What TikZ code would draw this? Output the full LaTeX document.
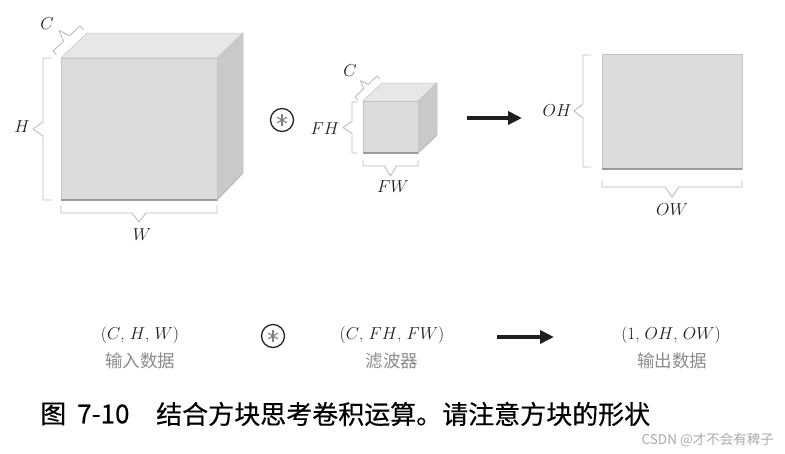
\documentclass[tikz,border=0pt]{standalone}
\usepackage{fontspec}
\newfontfamily\cjk{Noto Sans CJK SC}
\newfontfamily\cjkcap{Noto Sans CJK SC}[FakeBold=0.3]
\usetikzlibrary{arrows.meta,calc}
\definecolor{faceC}{HTML}{DCDCDE}
\definecolor{topC}{HTML}{E7E7E9}
\definecolor{sideC}{HTML}{C9C9CB}
\definecolor{edgeC}{HTML}{C4C4C6}
\definecolor{shadowC}{HTML}{9C9C9E}
\definecolor{brkC}{HTML}{BDBDBD}
\definecolor{lblC}{HTML}{1E1E1E}
\definecolor{cnC}{HTML}{8C8C8C}
% bracket: start, end, tick length, tip length, half notch width
\newcommand\brk[5]{%
  \path (#1) coordinate (bA) (#2) coordinate (bB) ($(bA)!0.5!(bB)$) coordinate (bM);
  \draw[brk] ($(bA)!#3!90:(bB)$) -- (bA) -- ($(bM)!#5!(bA)$) -- ($(bM)!#4!-90:(bB)$)
     -- ($(bM)!#5!(bB)$) -- (bB) -- ($(bB)!#3!-90:(bA)$);}
\newcommand\astk[1]{%
  \foreach \a in {30,90,150,210,270,330}
    \draw[draw=black!50, line width=1.1pt, line cap=round] (#1.center) -- ++(\a:5.5pt);}
\tikzset{
  brk/.style={draw=brkC, line width=0.9pt, line join=round},
  face/.style={fill=faceC, draw=edgeC, line width=0.5pt},
  topface/.style={fill=topC, draw=edgeC, line width=0.5pt},
  sideface/.style={fill=sideC, draw=edgeC, line width=0.5pt},
  shadow/.style={draw=shadowC, line width=1.4pt},
  dimlbl/.style={text=lblC, font=\fontsize{19}{22}\selectfont, inner sep=0pt},
  tuple/.style={text=lblC, font=\fontsize{17}{20}\selectfont, inner sep=0pt},
  cnlbl/.style={text=cnC, font=\cjk\fontsize{17.5}{20}\selectfont, inner sep=0pt},
  opcirc/.style={circle, draw=black!85, line width=1.3pt, minimum size=23pt, inner sep=0pt},
  bigarrow/.style={line width=4pt, draw=black!88, -{Triangle[length=14pt,width=13pt]}},
  captxt/.style={text=black, font=\cjkcap\fontsize{26}{30}\selectfont, inner sep=0pt, anchor=west},
}
\begin{document}
\begin{tikzpicture}[x=1pt,y=-1pt]
\useasboundingbox (0,0) rectangle (785,453);
\fill[white] (0,0) rectangle (785,453);

% ---- input cube
\draw[topface] (61,58) -- (87,33) -- (243,33) -- (217,58) -- cycle;
\draw[sideface] (217,58) -- (243,33) -- (243,173) -- (217,200) -- cycle;
\draw[face] (61,58) rectangle (217,200);
\draw[shadow] (61,200) -- (217,200);
\draw[draw=shadowC!70, line width=0.9pt] (217,200) -- (243,173);

\brk{43,58}{43,200}{9pt}{10pt}{7pt}
\brk{61,213}{217,213}{8pt}{9pt}{7pt}
\brk{80,26}{53,51}{5pt}{11pt}{4pt}
\node[dimlbl] (lC1) at (47,24) {$C$};
\node[dimlbl] (lH) at (22,127) {$H$};
\node[dimlbl] (lW) at (142,235) {$W$};

% ---- operator
\node[opcirc] (op1) at (282,120) {};
\astk{op1}

% ---- filter cube
\draw[topface] (363,101) -- (382,83) -- (437,83) -- (418,101) -- cycle;
\draw[sideface] (418,101) -- (437,83) -- (437,135) -- (418,153) -- cycle;
\draw[face] (363,101) rectangle (418,153);
\draw[shadow] (363,153) -- (418,153);
\draw[draw=shadowC!70, line width=0.8pt] (418,153) -- (437,135);

\brk{352,102}{352,153}{6pt}{9pt}{6pt}
\brk{363,166}{418,166}{6pt}{10pt}{6pt}
\brk{377,76}{355,97}{4pt}{8pt}{3pt}
\node[dimlbl] (lC2) at (350,71) {$C$};
\node[dimlbl] (lFH) at (325,129) {$FH$};
\node[dimlbl] (lFW) at (393,187) {$FW$};

% ---- arrow
\coordinate (a1s) at (467,118);
\coordinate (a1e) at (522,118);
\draw[bigarrow] (a1s) -- (a1e);

% ---- output
\draw[face] (602,54) rectangle (742,169);
\draw[shadow] (602,169) -- (742,169);
\brk{583,55}{583,167}{8pt}{9pt}{7pt}
\brk{602,187}{742,187}{7pt}{10pt}{7pt}
\node[dimlbl] (lOH) at (557,111) {$OH$};
\node[dimlbl] (lOW) at (672,210) {$OW$};

% ---- bottom row
\node[tuple] (t1) at (140,335) {$(C$, $H$, $W)$};
\node[cnlbl] (c1) at (140,361) {输入数据};
\node[opcirc] (op2) at (273,336) {};
\astk{op2}
\node[tuple] (t2) at (392,335) {$(C$, $FH$, $FW)$};
\node[cnlbl] (c2) at (392,361) {滤波器};
\coordinate (a2s) at (497,337);
\coordinate (a2e) at (554,337);
\draw[bigarrow] (a2s) -- (a2e);
\node[tuple] (t3) at (671,335) {$(1$, $OH$, $OW)$};
\node[cnlbl] (c3) at (672,361) {输出数据};

% ---- caption
\node[captxt] (cap1) at (40,414) {图};
\node[captxt] (cap2) at (77,414) {7-10};
\node[captxt] (cap3) at (156,414) {结合方块思考卷积运算。请注意方块的形状};
\node[anchor=east, inner sep=0pt, text=black!33, font=\cjk\fontsize{13.5}{16}\selectfont] (wm) at (774,440) {CSDN @才不会有稗子};
\end{tikzpicture}
\end{document}
